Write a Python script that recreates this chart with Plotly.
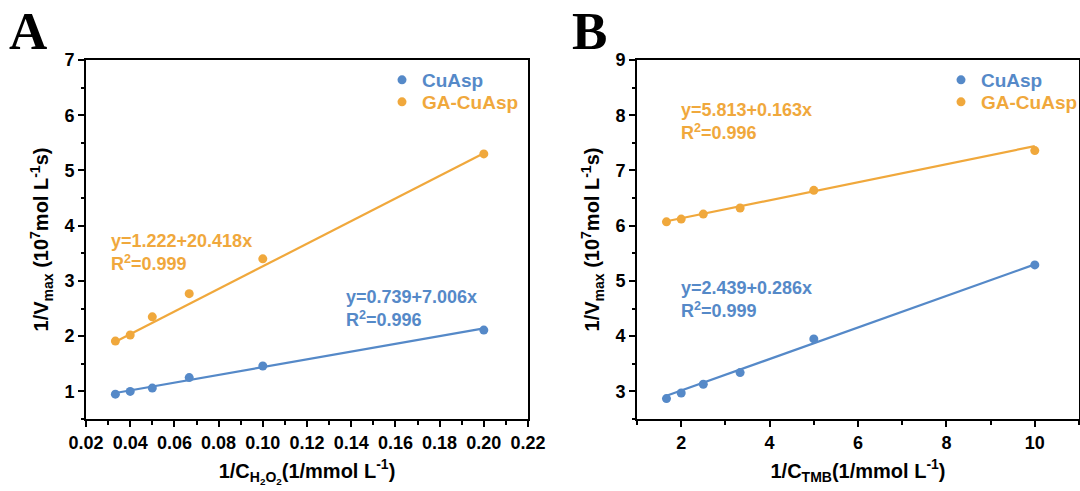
import plotly.graph_objects as go

# ---------------- data ----------------
# Panel A: H2O2 varied
xA = [0.0333, 0.04, 0.05, 0.0667, 0.10, 0.20]
yA_cu = [0.95, 1.00, 1.06, 1.25, 1.46, 2.11]
yA_ga = [1.91, 2.02, 2.35, 2.77, 3.40, 5.30]
fitA_x = [0.0333, 0.20]
fitA_cu = [0.97, 2.14]
fitA_ga = [1.90, 5.31]

# Panel B: TMB varied
xB = [1.667, 2.0, 2.5, 3.333, 5.0, 10.0]
yB_cu = [2.87, 2.97, 3.13, 3.34, 3.95, 5.29]
yB_ga = [6.07, 6.12, 6.21, 6.32, 6.64, 7.36]
fitB_x = [1.667, 10.0]
fitB_cu = [2.92, 5.30]
fitB_ga = [6.08, 7.44]

# tick labels
xA_ticks = [0.02, 0.04, 0.06, 0.08, 0.10, 0.12, 0.14, 0.16, 0.18, 0.20, 0.22]
xA_labels = ["0.02", "0.04", "0.06", "0.08", "0.10", "0.12", "0.14", "0.16", "0.18", "0.20", "0.22"]
yA_ticks = [1, 2, 3, 4, 5, 6, 7]
xB_ticks = [2, 4, 6, 8, 10]
yB_ticks = [3, 4, 5, 6, 7, 8, 9]

series_names = ["CuAsp", "GA-CuAsp"]
eqA = ["y=0.739+7.006x<br>R<sup>2</sup>=0.996", "y=1.222+20.418x<br>R<sup>2</sup>=0.999"]
eqB = ["y=2.439+0.286x<br>R<sup>2</sup>=0.999", "y=5.813+0.163x<br>R<sup>2</sup>=0.996"]

BLUE = "#5589c8"
ORANGE = "#f0a83c"
FONT = "Liberation Sans"
W, H = 1080, 491

fig = go.Figure()

def add_panel(xs, ycu, yga, fx, fcu, fga, xa, ya, legs):
    for fy, c in [(fcu, BLUE), (fga, ORANGE)]:
        fig.add_trace(go.Scatter(x=fx, y=fy, mode="lines", line=dict(color=c, width=2.2),
                                 xaxis=xa, yaxis=ya, showlegend=False, hoverinfo="skip"))
    for y, c, n, lg in [(ycu, BLUE, series_names[0], legs[0]), (yga, ORANGE, series_names[1], legs[1])]:
        fig.add_trace(go.Scatter(x=xs, y=y, mode="markers",
                                 marker=dict(color=c, size=9),
                                 name=f"<span style='color:{c}'><b>{n}</b></span>",
                                 xaxis=xa, yaxis=ya, legend=lg))

add_panel(xA, yA_cu, yA_ga, fitA_x, fitA_cu, fitA_ga, "x", "y", ["legend", "legend2"])
add_panel(xB, yB_cu, yB_ga, fitB_x, fitB_cu, fitB_ga, "x2", "y2", ["legend3", "legend4"])

def bold(lbls):
    return [f"<b>{l}</b>" for l in lbls]

ydom = [72 / H, 431 / H]
axis_common = dict(
    showline=True, linecolor="black", linewidth=2, mirror=True,
    ticks="outside", ticklen=6, tickwidth=2, tickcolor="black",
    showgrid=False, zeroline=False, automargin=False,
    tickfont=dict(family=FONT, size=18, color="black", weight="bold"),
    title_font=dict(family=FONT, size=20, color="black", weight="bold"),
)
minor = dict(ticks="outside", ticklen=3.5, tickwidth=2, tickcolor="black", showgrid=False)

ytitle = "<b>1/V<sub>max</sub> (10<sup>7</sup>mol L<sup>-1</sup>s)</b>"

fig.update_layout(
    width=W, height=H,
    margin=dict(l=0, r=0, t=0, b=0, autoexpand=False),
    paper_bgcolor="white", plot_bgcolor="white",
    xaxis=dict(domain=[86 / W, 528 / W], range=[0.02, 0.22],
               tickmode="array", tickvals=xA_ticks, ticktext=bold(xA_labels),
               minor=dict(dtick=0.01, tick0=0.02, **minor),
               title=dict(text="<b>1/C<sub>H<sub>2</sub>O<sub>2</sub></sub>(1/mmol L<sup>-1</sup>)</b>",
                          standoff=12),
               anchor="y", **axis_common),
    yaxis=dict(domain=ydom, range=[0.5, 7],
               tickmode="array", tickvals=yA_ticks, ticktext=bold([str(v) for v in yA_ticks]),
               minor=dict(dtick=0.5, tick0=0, **minor),
               title=dict(text=ytitle, standoff=10), anchor="x", **axis_common),
    xaxis2=dict(domain=[637 / W, 1079 / W], range=[1, 11],
                tickmode="array", tickvals=xB_ticks, ticktext=bold([str(v) for v in xB_ticks]),
                minor=dict(dtick=1, tick0=0, **minor),
                title=dict(text="<b>1/C<sub>TMB</sub>(1/mmol L<sup>-1</sup>)</b>", standoff=12),
                anchor="y2", **axis_common),
    yaxis2=dict(domain=ydom, range=[2.5, 9],
                tickmode="array", tickvals=yB_ticks, ticktext=bold([str(v) for v in yB_ticks]),
                minor=dict(dtick=0.5, tick0=0, **minor),
                title=dict(text=ytitle, standoff=10), anchor="x2", **axis_common),
    showlegend=True,
)

def leg(xpx, ypx):
    return dict(x=xpx / W, y=1 - ypx / H, xanchor="left", yanchor="top",
                bgcolor="rgba(0,0,0,0)", font=dict(family=FONT, size=19), tracegroupgap=0)

fig.update_layout(
    legend=leg(382, 61), legend2=leg(382, 83),
    legend3=leg(941, 61), legend4=leg(941, 83),
)

ann_font = dict(family=FONT, size=18)
annotations = [
    dict(text="<b>A</b>", x=7 / W, y=1 - 31 / H, xref="paper", yref="paper", xanchor="left", yanchor="middle",
         showarrow=False, font=dict(family="Liberation Serif", size=53, color="black")),
    dict(text="<b>B</b>", x=570 / W, y=1 - 31 / H, xref="paper", yref="paper", xanchor="left", yanchor="middle",
         showarrow=False, font=dict(family="Liberation Serif", size=53, color="black")),
    dict(text=f"<b>{eqA[1]}</b>", x=109 / W, y=1 - 253 / H, xref="paper", yref="paper", xanchor="left",
         yanchor="middle", align="left", showarrow=False, font=dict(color=ORANGE, **ann_font)),
    dict(text=f"<b>{eqA[0]}</b>", x=344 / W, y=1 - 308 / H, xref="paper", yref="paper", xanchor="left",
         yanchor="middle", align="left", showarrow=False, font=dict(color=BLUE, **ann_font)),
    dict(text=f"<b>{eqB[1]}</b>", x=679 / W, y=1 - 121 / H, xref="paper", yref="paper", xanchor="left",
         yanchor="middle", align="left", showarrow=False, font=dict(color=ORANGE, **ann_font)),
    dict(text=f"<b>{eqB[0]}</b>", x=679 / W, y=1 - 299 / H, xref="paper", yref="paper", xanchor="left",
         yanchor="middle", align="left", showarrow=False, font=dict(color=BLUE, **ann_font)),
]
fig.update_layout(annotations=annotations)

fig.write_html("out.html")
